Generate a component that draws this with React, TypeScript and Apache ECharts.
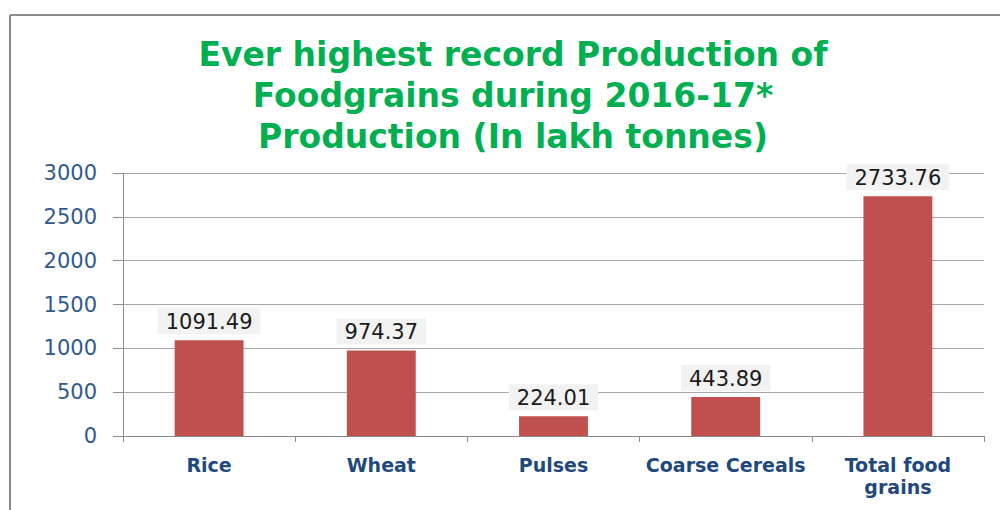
import React, { useEffect, useRef } from "react";
import * as echarts from "echarts";

const titleLines = [
  "Ever highest record Production of",
  "Foodgrains during 2016-17*",
  "Production (In lakh tonnes)",
];
const categories = ["Rice", "Wheat", "Pulses", "Coarse Cereals", "Total food\ngrains"];
const production = [1091.49, 974.37, 224.01, 443.89, 2733.76];
const yMin = 0;
const yMax = 3000;
const yStep = 500;

export default function App() {
  const ref = useRef<HTMLDivElement>(null);
  useEffect(() => {
    if (!ref.current) return;
    const chart = echarts.init(ref.current, null, { renderer: "svg" });
    chart.setOption({
      animation: false,
      backgroundColor: "#ffffff",
      title: {
        text: titleLines.join("\n"),
        left: 508,
        top: 29,
        textAlign: "center",
        textStyle: {
          fontFamily: "DejaVu Sans",
          fontWeight: "bold",
          fontSize: 33,
          lineHeight: 41,
          color: "#00b050",
        },
      },
      graphic: [
        {
          type: "line",
          shape: { x1: 10, y1: 15, x2: 1000, y2: 15 },
          style: { stroke: "#8c8c8c", lineWidth: 2 },
        },
        {
          type: "line",
          shape: { x1: 10, y1: 15, x2: 10, y2: 510 },
          style: { stroke: "#8c8c8c", lineWidth: 2 },
        },
      ],
      grid: { left: 123, right: 16, top: 173, bottom: 74, containLabel: false },
      xAxis: {
        type: "category",
        data: categories,
        boundaryGap: true,
        axisLine: { show: true, lineStyle: { color: "#8c8c8c", width: 1 } },
        axisTick: { show: true, length: 6, lineStyle: { color: "#8c8c8c" } },
        axisLabel: {
          interval: 0,
          margin: 18,
          fontFamily: "DejaVu Sans",
          fontWeight: "bold",
          fontSize: 19,
          lineHeight: 22,
          color: "#1f497d",
        },
      },
      yAxis: {
        type: "value",
        min: yMin,
        max: yMax,
        interval: yStep,
        axisLine: { show: true, lineStyle: { color: "#8c8c8c", width: 1 } },
        axisTick: { show: true, length: 10, lineStyle: { color: "#8c8c8c" } },
        splitLine: { show: true, lineStyle: { color: "#a6a6a6", width: 1 } },
        axisLabel: {
          margin: 26,
          fontFamily: "DejaVu Sans",
          fontSize: 21,
          color: "#2f5a8f",
          formatter: (v: number) => String(v),
        },
      },
      series: [
        {
          type: "bar",
          data: production,
          barWidth: "40%",
          itemStyle: { color: "#c0504d" },
          label: {
            show: true,
            position: "top",
            distance: 6,
            formatter: (p: any) => p.value.toFixed(2),
            fontFamily: "DejaVu Sans",
            fontSize: 21,
            color: "#1a1a1a",
            backgroundColor: "#f2f2f2",
            padding: [3, 8, 2, 8],
          },
        },
      ],
    });
    return () => chart.dispose();
  }, []);
  return (
    <div
      ref={ref}
      style={{ position: "absolute", left: 0, top: 0, width: 1000, height: 510 }}
    />
  );
}
